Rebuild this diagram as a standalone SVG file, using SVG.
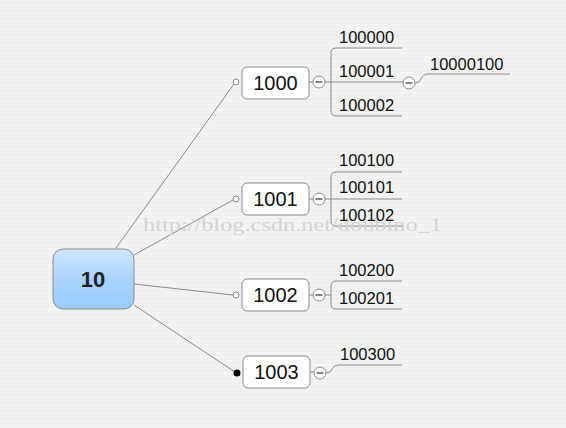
<svg xmlns="http://www.w3.org/2000/svg" width="566" height="428" viewBox="0 0 566 428">
<defs>
<linearGradient id="rootg" x1="0" y1="0" x2="0" y2="1">
<stop offset="0" stop-color="#cfe6ff"/>
<stop offset="0.5" stop-color="#a9d3ff"/>
<stop offset="1" stop-color="#99ccff"/>
</linearGradient>
<pattern id="stripes" width="8" height="4" patternUnits="userSpaceOnUse">
<rect width="8" height="4" fill="#f3f3f3"/>
<rect y="2" width="8" height="2" fill="#f0f0f0"/>
</pattern>
</defs>
<style>
.node{fill:#fff;stroke:#8a8a8a;stroke-width:1}
.nt{font-family:"Liberation Sans",Arial,sans-serif;font-size:20px;fill:#111;text-anchor:middle}
.lt{font-family:"Liberation Sans",Arial,sans-serif;font-size:16.5px;fill:#111}
.ln{fill:none;stroke:#8a8a8a;stroke-width:1}
.dot{fill:#fff;stroke:#8a8a8a;stroke-width:1}
.col{fill:#fff;stroke:#8a8a8a;stroke-width:1}
.minus{stroke:#333;stroke-width:1.2}
.wm{font-family:"Liberation Serif","DejaVu Serif",serif;font-size:18px;fill:#d4d4d4}
</style>
<rect width="566" height="428" fill="url(#stripes)"/>
<g id="connectors">
<line class="ln" x1="116" y1="248" x2="234" y2="84"/>
<line class="ln" x1="134" y1="255" x2="233" y2="200"/>
<line class="ln" x1="134" y1="284" x2="233" y2="295"/>
<line class="ln" x1="134" y1="305" x2="235" y2="372"/>
<circle class="dot" cx="236" cy="82" r="3"/>
<circle class="dot" cx="236" cy="199" r="3"/>
<circle class="dot" cx="236" cy="295" r="3"/>
<circle cx="237" cy="373" r="3.5" fill="#000"/>
<!-- 1000 branches -->
<line class="ln" x1="309" y1="82" x2="313" y2="82"/>
<path class="ln" d="M402 48 H336 Q331 48 331 53 V110 Q331 116 336 116 H402"/>
<line class="ln" x1="325" y1="82" x2="403" y2="82"/>
<path class="ln" d="M415 83 Q420 83 421 79 Q423 74 428 74 H510"/>
<!-- 1001 branches -->
<line class="ln" x1="309" y1="199" x2="313" y2="199"/>
<path class="ln" d="M402 172 H336 Q331 172 331 177 V221 Q331 226 336 226 H402"/>
<line class="ln" x1="325" y1="199" x2="402" y2="199"/>
<!-- 1002 branches -->
<line class="ln" x1="309" y1="295" x2="313" y2="295"/>
<path class="ln" d="M402 281 H336 Q331 281 331 286 V304 Q331 309 336 309 H402"/>
<line class="ln" x1="325" y1="295" x2="331" y2="295"/>
<!-- 1003 branches -->
<line class="ln" x1="310" y1="372" x2="314" y2="372"/>
<path class="ln" d="M326 373 Q331 373 332 369 Q334 365 339 365 H402"/>
</g>
<text class="wm" x="143" y="231" textLength="299" lengthAdjust="spacingAndGlyphs">http://blog.csdn.net/doubino_1</text>
<g id="root">
<rect x="53" y="249" width="81" height="60" rx="10" fill="url(#rootg)" stroke="#8a8a8a"/>
<text x="93" y="287" font-family="Liberation Sans,Arial,sans-serif" font-size="22" font-weight="bold" fill="#222" text-anchor="middle">10</text>
</g>
<g id="n1000">
<rect class="node" x="242" y="67" width="67" height="32" rx="5"/>
<text class="nt" x="275.5" y="90">1000</text>
<circle class="col" cx="319" cy="82" r="6"/><line class="minus" x1="315.5" y1="82" x2="322.5" y2="82"/>
</g>
<g id="n100000"><text class="lt" x="339" y="43">100000</text></g>
<g id="n100001"><text class="lt" x="339" y="77">100001</text>
<circle class="col" cx="409" cy="83" r="6"/><line class="minus" x1="405.5" y1="83" x2="412.5" y2="83"/></g>
<g id="n10000100"><text class="lt" x="430" y="70">10000100</text></g>
<g id="n100002"><text class="lt" x="339" y="111">100002</text></g>
<g id="n1001">
<rect class="node" x="242" y="183" width="67" height="32" rx="5"/>
<text class="nt" x="275.5" y="206">1001</text>
<circle class="col" cx="319" cy="199" r="6"/><line class="minus" x1="315.5" y1="199" x2="322.5" y2="199"/>
</g>
<g id="n100100"><text class="lt" x="339" y="166">100100</text></g>
<g id="n100101"><text class="lt" x="339" y="193">100101</text></g>
<g id="n100102"><text class="lt" x="339" y="221">100102</text></g>
<g id="n1002">
<rect class="node" x="242" y="279" width="67" height="32" rx="5"/>
<text class="nt" x="275.5" y="302">1002</text>
<circle class="col" cx="319" cy="295" r="6"/><line class="minus" x1="315.5" y1="295" x2="322.5" y2="295"/>
</g>
<g id="n100200"><text class="lt" x="339" y="276">100200</text></g>
<g id="n100201"><text class="lt" x="339" y="304">100201</text></g>
<g id="n1003">
<rect class="node" x="243" y="356" width="67" height="32" rx="5"/>
<text class="nt" x="276.5" y="379">1003</text>
<circle class="col" cx="320" cy="373" r="6"/><line class="minus" x1="316.5" y1="373" x2="323.5" y2="373"/>
</g>
<g id="n100300"><text class="lt" x="340" y="360">100300</text></g>
</svg>
